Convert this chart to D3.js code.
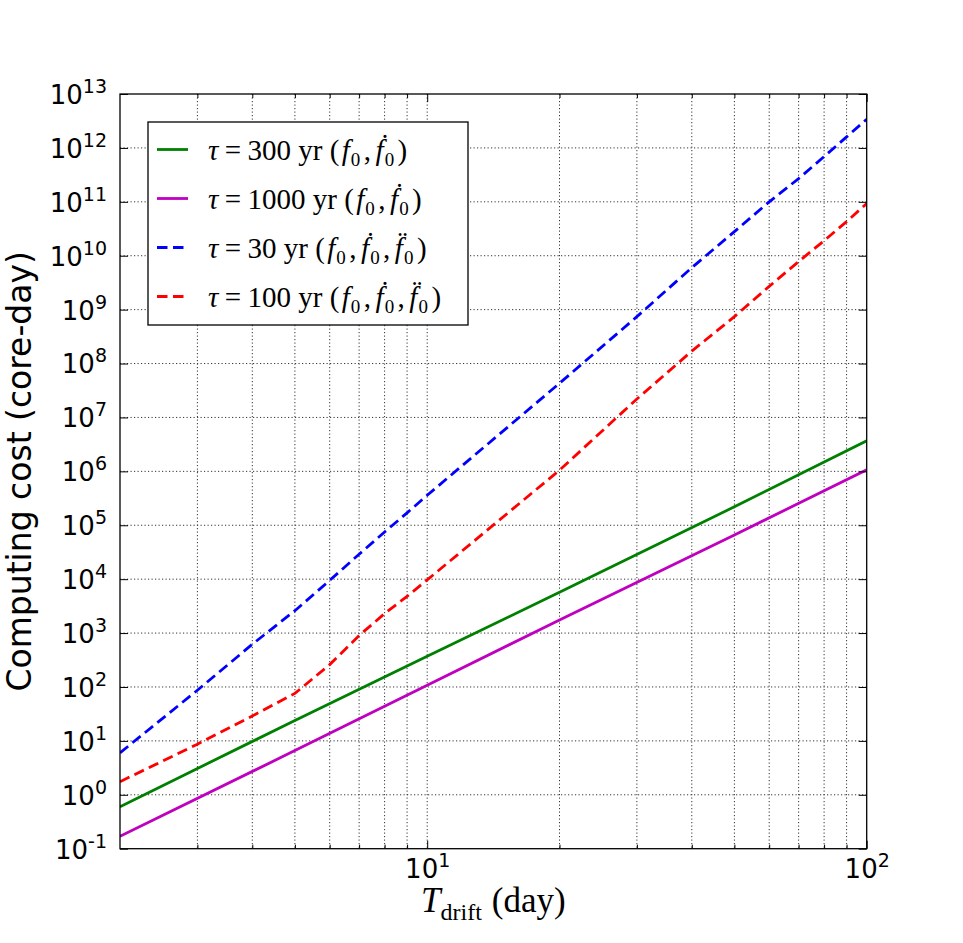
<!DOCTYPE html>
<html>
<head>
<meta charset="utf-8">
<title>Computing cost vs drift time</title>
<script src="https://cdn.jsdelivr.net/npm/d3@7"></script>
<style>
  body { margin: 0; background: #fff; }
  svg { display: block; }
</style>
</head>
<body>
<div id="chart"></div>
<script>
// T_drift sample points (day)
var tLine = [2, 5, 10, 20, 50, 100];
var tCurve = [2, 3, 4, 5, 6, 7, 8, 9, 10, 20, 30, 40, 50, 60, 70, 80, 90, 100];

// computing cost (core-day)
var cost300 = [0.6, 24, 370, 5700, 2.2e5, 3.7e6];
var cost1000 = [0.17, 6.6, 108, 1750, 6.6e4, 1.07e6];
var cost30 = [6.0, 87, 620, 2.6e3, 9.5e3, 2.9e4, 7.5e4, 1.7e5, 3.6e5,
              4.3e7, 7.4e8, 6e9, 2.8e10, 1e11, 2.7e11, 6.9e11, 1.6e12, 3.4e12];
var cost100 = [1.75, 8.7, 29, 76, 260, 900, 2.3e3, 4.8e3, 9.7e3,
               1.05e6, 2.2e7, 1.7e8, 7.4e8, 2.7e9, 7.8e9, 1.9e10, 4.3e10, 9.3e10];

var tauLabels = ["300", "1000", "30", "100"];
var derivCount = [2, 2, 3, 3];
var colors = ["#008000", "#bf00bf", "#0000ff", "#ff0000"];

var yExp = [-1, 0, 1, 2, 3, 4, 5, 6, 7, 8, 9, 10, 11, 12, 13];
var xMajor = [10, 100];
var xMinor = [3, 4, 5, 6, 7, 8, 9, 20, 30, 40, 50, 60, 70, 80, 90];

var w = 963, h = 943;
var pL = 120, pR = 866.7, pT = 94, pB = 848.7;

var svg = d3.select("#chart").append("svg")
    .attr("width", w)
    .attr("height", h);

var x = d3.scaleLog().domain([2, 100]).range([pL, pR]);
var y = d3.scaleLog().domain([0.1, 1e13]).range([pB, pT]);

// grid, dotted
var grid = svg.append("g")
    .attr("stroke", "#333")
    .attr("stroke-width", 1)
    .attr("stroke-dasharray", "1.2,2.3");
grid.selectAll("line.gx")
    .data(xMinor.concat([10]))
    .enter().append("line")
    .attr("x1", function (d) { return x(d); })
    .attr("x2", function (d) { return x(d); })
    .attr("y1", pT)
    .attr("y2", pB);
grid.selectAll("line.gy")
    .data(yExp.slice(1, -1))
    .enter().append("line")
    .attr("x1", pL)
    .attr("x2", pR)
    .attr("y1", function (d) { return y(Math.pow(10, d)); })
    .attr("y2", function (d) { return y(Math.pow(10, d)); });

// series
var series = [
    { t: tLine, v: cost300, dash: null },
    { t: tLine, v: cost1000, dash: null },
    { t: tCurve, v: cost30, dash: "10.5,5.5" },
    { t: tCurve, v: cost100, dash: "10.5,5.5" }
];

svg.append("clipPath").attr("id", "clip")
    .append("rect")
    .attr("x", pL).attr("y", pT)
    .attr("width", pR - pL).attr("height", pB - pT);

var line = d3.line()
    .x(function (d) { return x(d[0]); })
    .y(function (d) { return y(d[1]); });

svg.append("g").attr("clip-path", "url(#clip)")
    .selectAll("path")
    .data(series)
    .enter().append("path")
    .attr("fill", "none")
    .attr("stroke", function (d, i) { return colors[i]; })
    .attr("stroke-width", 2.8)
    .attr("stroke-dasharray", function (d) { return d.dash; })
    .attr("d", function (d) { return line(d3.zip(d.t, d.v)); });

// axes, ticks pointing inward
function styleAxis(g) {
    g.select(".domain").remove();
    g.selectAll(".tick line").attr("stroke", "#000").attr("stroke-width", 1);
    g.attr("font-family", "DejaVu Sans, sans-serif").attr("font-size", 26);
    g.selectAll(".tick text").attr("fill", "#000");
}

function powerLabel(sel, supDy) {
    sel.each(function (d) {
        var t = d3.select(this);
        var e = Math.round(Math.log10(d));
        t.text(null);
        t.append("tspan").text("10");
        t.append("tspan").attr("dy", supDy).attr("font-size", 19).text(e);
    });
}

var yTickVals = yExp.map(function (e) { return Math.pow(10, e); });

svg.append("g")
    .attr("transform", "translate(" + pL + ",0)")
    .call(d3.axisLeft(y).tickValues(yTickVals).tickSizeInner(-8).tickSizeOuter(0)
        .tickPadding(13).tickFormat(""))
    .call(styleAxis)
    .call(function (g) {
        g.selectAll(".tick text").attr("dy", "0.36em").call(powerLabel, -11);
    });

svg.append("g")
    .attr("transform", "translate(" + pR + ",0)")
    .call(d3.axisRight(y).tickValues(yTickVals).tickSizeInner(-8).tickSizeOuter(0).tickFormat(""))
    .call(styleAxis);

svg.append("g")
    .attr("transform", "translate(0," + pB + ")")
    .call(d3.axisBottom(x).tickValues(xMajor).tickSizeInner(-8).tickSizeOuter(0)
        .tickPadding(11).tickFormat(""))
    .call(styleAxis)
    .call(function (g) {
        g.selectAll(".tick text").call(powerLabel, -11);
    });

svg.append("g")
    .attr("transform", "translate(0," + pB + ")")
    .call(d3.axisBottom(x).tickValues(xMinor).tickSizeInner(-4).tickSizeOuter(0).tickFormat(""))
    .call(styleAxis);

svg.append("g")
    .attr("transform", "translate(0," + pT + ")")
    .call(d3.axisTop(x).tickValues(xMajor).tickSizeInner(-8).tickSizeOuter(0).tickFormat(""))
    .call(styleAxis);

svg.append("g")
    .attr("transform", "translate(0," + pT + ")")
    .call(d3.axisTop(x).tickValues(xMinor).tickSizeInner(-4).tickSizeOuter(0).tickFormat(""))
    .call(styleAxis);

// frame
svg.append("rect")
    .attr("x", pL).attr("y", pT)
    .attr("width", pR - pL).attr("height", pB - pT)
    .attr("fill", "none")
    .attr("stroke", "#000")
    .attr("stroke-width", 1.3);

// axis labels
svg.append("text")
    .attr("transform", "translate(31," + ((pT + pB) / 2) + ") rotate(-90)")
    .attr("text-anchor", "middle")
    .attr("font-family", "DejaVu Sans, sans-serif")
    .attr("font-size", 33)
    .text("Computing cost (core-day)");

var xl = svg.append("text")
    .attr("x", (pL + pR) / 2)
    .attr("y", 912)
    .attr("text-anchor", "middle")
    .attr("font-family", "Liberation Serif, serif")
    .attr("font-size", 35);
xl.append("tspan").attr("font-style", "italic").text("T");
xl.append("tspan").attr("dy", 8).attr("font-size", 24).text("drift");
xl.append("tspan").attr("dy", -8).attr("dx", 10).text("(day)");

// legend
var legend = svg.append("g");
legend.append("rect")
    .attr("x", 148).attr("y", 122)
    .attr("width", 320).attr("height", 203)
    .attr("fill", "#fff")
    .attr("stroke", "#000")
    .attr("stroke-width", 1.3);

var rowY = [149.5, 198.5, 247.5, 296.5];

legend.selectAll("line")
    .data(series)
    .enter().append("line")
    .attr("x1", 157).attr("x2", 188)
    .attr("y1", function (d, i) { return rowY[i]; })
    .attr("y2", function (d, i) { return rowY[i]; })
    .attr("stroke", function (d, i) { return colors[i]; })
    .attr("stroke-width", 2.8)
    .attr("stroke-dasharray", function (d) { return d.dash; });

var marks = ["", "\u0307", "\u0308"];

tauLabels.forEach(function (tau, i) {
    var t = legend.append("text")
        .attr("x", 208)
        .attr("y", rowY[i] + 10)
        .attr("font-family", "Liberation Serif, serif")
        .attr("font-size", 29);
    t.append("tspan").attr("font-style", "italic").text("\u03c4");
    t.append("tspan").attr("dx", "0.22em").text("=");
    t.append("tspan").attr("dx", "0.22em").text(tau + "\u00a0yr\u00a0(");
    for (var k = 0; k < derivCount[i]; k++) {
        if (k > 0) t.append("tspan").attr("dx", "0.12em").attr("dy", -6).text(",");
        t.append("tspan").attr("font-style", "italic").attr("dx", k > 0 ? "0.15em" : "0.08em")
            .text("f" + marks[k]);
        t.append("tspan").attr("dy", 6).attr("dx", "0.06em").attr("font-size", 19).text("0");
    }
    t.append("tspan").attr("dx", "0.12em").attr("dy", -6).text(")");
});
</script>
</body>
</html>
